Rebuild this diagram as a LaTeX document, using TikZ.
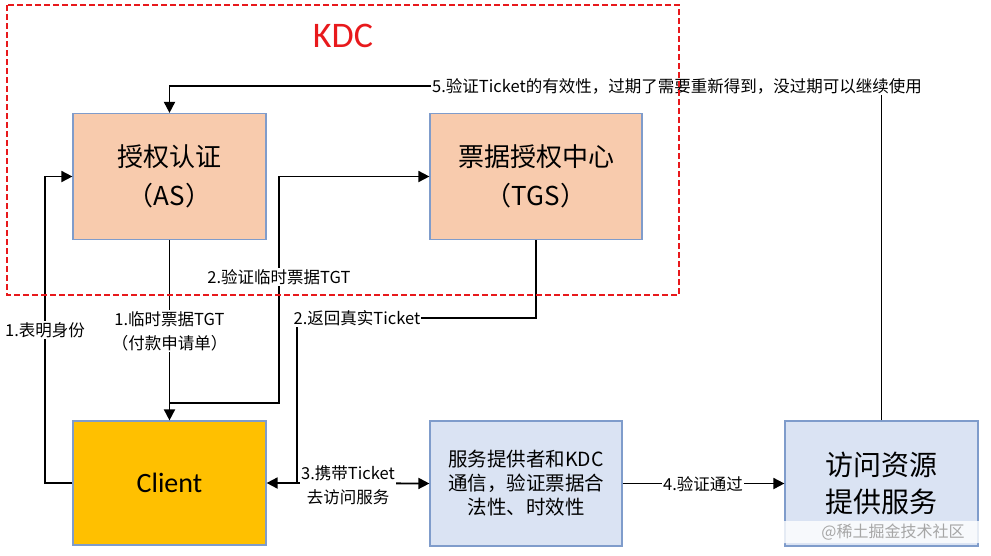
\documentclass[tikz,border=0pt]{standalone}
\usepackage{fontspec}
\setmainfont{Noto Sans CJK SC}
\newfontfamily\latinfont{Carlito}
\usetikzlibrary{arrows.meta}
\definecolor{peach}{HTML}{F8CBAD}
\definecolor{gold}{HTML}{FFC000}
\definecolor{lblue}{HTML}{DAE3F3}
\definecolor{bordblue}{HTML}{7F9CCB}
\definecolor{kdcred}{HTML}{E8191C}
\begin{document}
\begin{tikzpicture}[x=1pt,y=-1pt,
  box/.style={draw=bordblue, line width=1.2pt, align=center, inner sep=0pt, minimum width=193pt, minimum height=126pt},
  arr/.style={line width=1.8pt, -{Triangle[length=11pt,width=11pt]}},
  lbl/.style={fill=white, inner sep=1pt, font=\fontsize{16.5}{24}\selectfont, align=center}]
\useasboundingbox (0,0) rectangle (991,555);
% boxes
\node[box, fill=peach, font=\fontsize{26}{39}\selectfont] (as) at (169.5,176.5) {授权认证\\（AS）};
\node[box, fill=peach, minimum width=212pt, font=\fontsize{26}{39}\selectfont] (tgs) at (536,176.5) {票据授权中心\\（TGS）};
\node[box, fill=gold, minimum height=124pt, font=\latinfont\fontsize{28}{34}\selectfont] (client) at (169.5,483) {Client};
\node[box, fill=lblue, minimum width=192pt, minimum height=125pt, font=\fontsize{19.5}{24}\selectfont] (svc) at (526,483.5) {服务提供者和KDC\\通信，验证票据合\\法性、时效性};
\node[box, fill=lblue, minimum height=125pt, font=\fontsize{28}{37}\selectfont] (res) at (881.5,483.5) {访问资源\\提供服务};
% coordinates
\coordinate (c1) at (45,300);
\coordinate (j1) at (169.5,403);
\coordinate (c3) at (279,250);
\coordinate (c4) at (297,318);
\coordinate (c5) at (297,483);
\coordinate (c7) at (677,86);
% connectors
\draw[arr] (client.west) -| (c1) |- (as.west);
\draw[arr] (as.south) -- (client.north);
\draw[arr] (j1) -| (c3) |- (tgs.west);
\draw[arr] (tgs.south) |- (c4) |- (client.east);
\draw[arr] (c5) -- (svc.west);
\draw[arr] (svc.east) -- (res.west);
\draw[arr] (res.north) |- (c7) -| (as.north);
% labels
\node[lbl] (l1) at (45,330) {1.表明身份};
\node[lbl] (l2) at (169.5,331) {1.临时票据TGT\\（付款申请单）};
\node[lbl] (l3) at (279,277) {2.验证临时票据TGT};
\node[lbl] (l4) at (357,318) {2.返回真实Ticket};
\node[lbl] (l5) at (348,485) {3.携带Ticket\\去访问服务};
\node[lbl] (l6) at (703,484) {4.验证通过};
\node[lbl] (l7) at (677,86) {5.验证Ticket的有效性，过期了需要重新得到，没过期可以继续使用};
% KDC frame
\draw[draw=kdcred, line width=1.1pt, dash pattern=on 6pt off 3pt] (7,5) rectangle (679,295);
\node[text=kdcred, font=\latinfont\fontsize{36}{40}\selectfont] (kdc) at (343,36) {KDC};
% watermark
\fill[white, opacity=0.8, rounded corners=8pt] (760,521) rectangle (986,543);
\node[text=black!35, font=\fontsize{16}{18}\selectfont] (wm) at (893,532) {@稀土掘金技术社区};
\end{tikzpicture}
\end{document}
